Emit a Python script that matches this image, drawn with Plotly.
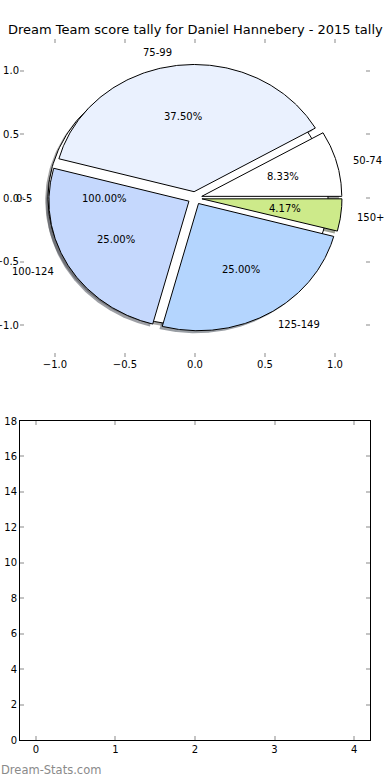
import numpy as np
import plotly.graph_objects as go

# ---- data ----
title = "Dream Team score tally for Daniel Hannebery - 2015 tally"
lone_labels = ["0-5"]
lone_values = [1]
lone_colors = ["#ffffff"]
labels = ["50-74", "75-99", "100-124", "125-149", "150+"]
values = [2, 9, 6, 6, 1]
colors = ["#ffffff", "#eaf1fe", "#c5d8fd", "#b4d5fe", "#cdea8a"]
explode = 0.05
pie_ticks = [-1.0, -0.5, 0.0, 0.5, 1.0]
bar_xticks = [0, 1, 2, 3, 4]
bar_yticks = [0, 2, 4, 6, 8, 10, 12, 14, 16, 18]
watermark = "Dream-Stats.com"

FONT = "DejaVu Sans"
W, H = 390, 780


def hex_rgb(h):
    h = h.lstrip("#")
    return [int(h[i:i + 2], 16) for i in (0, 2, 4)]


def wedges(vals):
    tot = float(sum(vals))
    out = []
    t = 0.0
    for v in vals:
        t2 = t + 360.0 * v / tot
        out.append((t, t2, v / tot * 100))
        t = t2
    return out


fig = go.Figure()
annos = []


def build(lbls, vals, cols):
    shapes = []
    for (t1, t2, pct), lab, col in zip(wedges(vals), lbls, cols):
        mid = np.deg2rad((t1 + t2) / 2)
        cx, cy = explode * np.cos(mid), explode * np.sin(mid)
        th = np.deg2rad(np.linspace(t1, t2, 240))
        xs = cx + np.cos(th)
        ys = cy + np.sin(th)
        full = (t2 - t1) >= 359.999
        if not full:
            xs = np.concatenate([[cx], xs, [cx]])
            ys = np.concatenate([[cy], ys, [cy]])
        shapes.append((xs, ys, col))
        lx = cx + 1.1 * np.cos(mid)
        ly = cy + 1.1 * np.sin(mid)
        annos.append(dict(x=lx, y=ly, xref="x", yref="y", text=lab, showarrow=False,
                          xanchor="left" if lx > 0 else "right", yanchor="middle",
                          font=dict(family=FONT, size=10, color="black")))
        annos.append(dict(x=cx + 0.6 * np.cos(mid), y=cy + 0.6 * np.sin(mid), xref="x", yref="y",
                          text="%.2f%%" % pct, showarrow=False, xanchor="center", yanchor="middle",
                          font=dict(family=FONT, size=10, color="black")))
    return shapes


lone = build(lone_labels, lone_values, lone_colors)
main = build(labels, values, colors)
allw = lone + main

# shadows (beneath everything)
for xs, ys, col in allw:
    r, g, b = [int(0.3 * c) for c in hex_rgb(col)]
    fig.add_trace(go.Scatter(x=xs - 0.02, y=ys - 0.02, mode="lines", fill="toself",
                             fillcolor="rgba(%d,%d,%d,0.5)" % (r, g, b), line=dict(width=0),
                             hoverinfo="skip", showlegend=False, xaxis="x", yaxis="y"))
# wedges
for xs, ys, col in allw:
    fig.add_trace(go.Scatter(x=xs, y=ys, mode="lines", fill="toself", fillcolor=col,
                             line=dict(color="black", width=1), hoverinfo="skip",
                             showlegend=False, xaxis="x", yaxis="y"))

# empty second axes
fig.add_trace(go.Scatter(x=[], y=[], xaxis="x2", yaxis="y2", showlegend=False))

annos.append(dict(x=0.5, y=1 - 30 / H, xref="paper", yref="paper", text=title, showarrow=False,
                  xanchor="center", yanchor="middle", font=dict(family=FONT, size=13, color="black")))
annos.append(dict(x=0, y=1 - 770 / H, xref="paper", yref="paper", text=watermark, showarrow=False,
                  xanchor="left", yanchor="middle", xshift=-1,
                  font=dict(family=FONT, size=11.5, color="#8a8a8a")))

tick_common = dict(ticks="inside", ticklen=4, tickwidth=1.5, tickcolor="#c4c4c4",
                   mirror="ticks", zeroline=False, showgrid=False, automargin=False,
                   tickfont=dict(family=FONT, size=10, color="black"))

fig.update_layout(
    width=W, height=H, autosize=False,
    margin=dict(l=0, r=0, t=0, b=0),
    paper_bgcolor="white", plot_bgcolor="white",
    annotations=annos,
    xaxis=dict(domain=[20 / W, 370 / W], range=[-1.25, 1.25], tickvals=pie_ticks,
               tickformat=".1f", showline=False, anchor="y", **tick_common),
    yaxis=dict(domain=[1 - 357 / H, 1 - 39 / H], range=[-1.25, 1.25], tickvals=pie_ticks,
               tickformat=".1f", showline=False, anchor="x", **tick_common),
    xaxis2=dict(domain=[20 / W, 370 / W], range=[-0.2, 4.2], tickvals=bar_xticks,
                showline=True, linecolor="black", linewidth=1, anchor="y2", **tick_common),
    yaxis2=dict(domain=[1 - 740 / H, 1 - 421 / H], range=[0, 18], tickvals=bar_yticks,
                showline=True, linecolor="black", linewidth=1, anchor="x2", **tick_common),
)

fig.write_html("out.html", config={"displayModeBar": False},
               post_script="document.body.style.margin='0';document.body.style.overflow='hidden';")
